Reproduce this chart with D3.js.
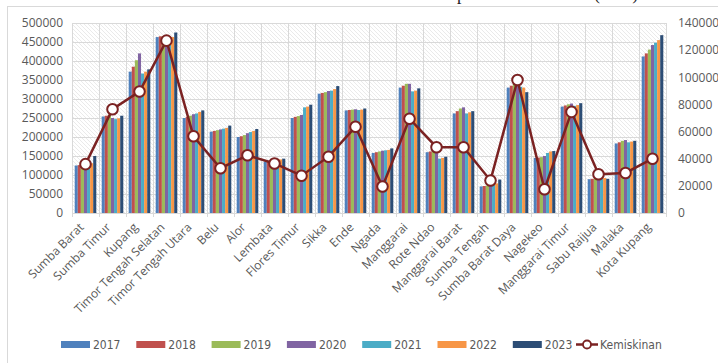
<!DOCTYPE html>
<html>
<head>
<meta charset="utf-8">
<script src="https://cdn.jsdelivr.net/npm/d3@7"></script>
<style>
  body { margin: 0; background: #fff; }
  svg { display: block; }
</style>
</head>
<body>
<div id="chart"></div>
<script>
const regions = ['Sumba Barat', 'Sumba Timur', 'Kupang', 'Timor Tengah Selatan', 'Timor Tengah Utara',
    'Belu', 'Alor', 'Lembata', 'Flores Timur', 'Sikka', 'Ende', 'Ngada', 'Manggarai', 'Rote Ndao',
    'Manggarai Barat', 'Sumba Tengah', 'Sumba Barat Daya', 'Nagekeo', 'Manggarai Timur', 'Sabu Raijua',
    'Malaka', 'Kota Kupang'];
const years = ['2017', '2018', '2019', '2020', '2021', '2022', '2023'];

// penduduk per tahun, urut sesuai regions
const pop2017 = [125000, 254000, 372000, 463000, 250000, 214000, 200000, 135000, 250000, 314000, 270000, 158000, 330000, 160000, 262000, 70000, 330000, 145000, 280000, 89000, 183000, 412000];
const pop2018 = [126000, 256000, 385000, 465000, 253000, 216000, 202000, 136000, 253000, 316000, 271000, 160000, 335000, 162000, 268000, 71000, 335000, 146000, 283000, 90000, 186000, 420000];
const pop2019 = [127000, 258000, 402000, 465000, 256000, 218000, 205000, 137000, 255000, 318000, 272000, 162000, 340000, 165000, 275000, 72000, 340000, 147000, 286000, 91000, 190000, 430000];
const pop2020 = [128000, 250000, 420000, 467000, 260000, 220000, 210000, 138000, 258000, 321000, 273000, 164000, 340000, 160000, 278000, 74000, 338000, 150000, 288000, 92000, 192000, 442000];
const pop2021 = [129000, 247000, 367000, 455000, 262000, 222000, 213000, 140000, 278000, 322000, 271000, 165000, 320000, 143000, 262000, 76000, 332000, 158000, 282000, 91000, 186000, 448000];
const pop2022 = [131000, 249000, 372000, 463000, 266000, 224000, 216000, 141000, 280000, 326000, 272000, 166000, 322000, 145000, 265000, 78000, 330000, 162000, 284000, 92000, 188000, 455000];
const pop2023 = [150000, 256000, 378000, 475000, 270000, 230000, 221000, 143000, 285000, 334000, 275000, 170000, 328000, 148000, 268000, 88000, 318000, 163000, 289000, 90000, 190000, 468000];
const kemiskinan = [36000, 76500, 89500, 127000, 56500, 33000, 42500, 36500, 27500, 41500, 63500, 19500, 69500, 48500, 48500, 24000, 98000, 17500, 74500, 28500, 29500, 40000];

const leftTicks = d3.range(0, 500001, 50000);
const rightTicks = d3.range(0, 140001, 20000);

const popByYear = [pop2017, pop2018, pop2019, pop2020, pop2021, pop2022, pop2023];
const colors = ['#4F81BD', '#C0504D', '#9BBB59', '#8064A2', '#4BACC6', '#F79646', '#2C4D75'];
const lineColor = '#7B2222';

const width = 718;
const height = 363;
const margin = {top: 23, left: 72};
const plotBottom = 213;

const svg = d3.select('#chart')
    .append('svg')
    .attr('width', width)
    .attr('height', height);

// hatch background
const defs = svg.append('defs');
defs.append('pattern')
    .attr('id', 'hatch')
    .attr('patternUnits', 'userSpaceOnUse')
    .attr('width', 4)
    .attr('height', 4)
  .append('path')
    .attr('d', 'M-1,-1 L5,5 M3,-1 L5,1 M-1,3 L1,5')
    .attr('stroke', '#e4e4e4')
    .attr('stroke-width', 0.8);

// title, mostly cut off at the top like in the source
svg.append('text')
    .attr('x', 385)
    .attr('y', -0.5)
    .attr('text-anchor', 'middle')
    .attr('font-family', 'Liberation Serif, serif')
    .attr('font-size', 17.5)
    .attr('fill', '#222')
    .text('Jumlah Penduduk dan Penduduk Miskin Kabupaten/Kota di NTT (Jiwa)');

// chart frame
svg.append('rect')
    .attr('x', 7.5)
    .attr('y', 6.5)
    .attr('width', 720)
    .attr('height', 370)
    .attr('fill', 'none')
    .attr('stroke', '#d9d9d9');

const x = d3.scaleBand()
    .domain(regions)
    .range([margin.left, margin.left + 27 * regions.length])
    .paddingInner(0.2)
    .paddingOuter(0.1);

const xInner = d3.scaleBand()
    .domain(years)
    .range([0, x.bandwidth()]);

const y = d3.scaleLinear()
    .domain([0, 500000])
    .range([plotBottom, margin.top]);

const y2 = d3.scaleLinear()
    .domain([0, 140000])
    .range([plotBottom, margin.top]);

const plotLeft = x.range()[0];
const plotRight = x.range()[1];

svg.append('rect')
    .attr('x', plotLeft)
    .attr('y', margin.top)
    .attr('width', plotRight - plotLeft)
    .attr('height', plotBottom - margin.top)
    .attr('fill', 'url(#hatch)');

// gridlines
svg.append('g')
    .attr('stroke', '#d9d9d9')
    .selectAll('line')
    .data(leftTicks.slice(1))
    .join('line')
        .attr('x1', plotLeft)
        .attr('x2', plotRight)
        .attr('y1', d => Math.round(y(d)) + 0.5)
        .attr('y2', d => Math.round(y(d)) + 0.5);

const step = x.step();
svg.append('g')
    .attr('stroke', '#d9d9d9')
    .selectAll('line')
    .data(d3.range(regions.length + 1))
    .join('line')
        .attr('x1', i => Math.round(plotLeft + i * step) + 0.5)
        .attr('x2', i => Math.round(plotLeft + i * step) + 0.5)
        .attr('y1', margin.top)
        .attr('y2', plotBottom + 4);

// bars
const groups = svg.append('g')
    .selectAll('g')
    .data(regions)
    .join('g')
        .attr('transform', d => `translate(${x(d)},0)`);

groups.selectAll('rect')
    .data((d, i) => years.map((yr, j) => ({year: yr, value: popByYear[j][i], color: colors[j]})))
    .join('rect')
        .attr('x', d => xInner(d.year))
        .attr('width', xInner.bandwidth())
        .attr('y', d => y(d.value))
        .attr('height', d => y(0) - y(d.value))
        .attr('fill', d => d.color);

// baseline
svg.append('line')
    .attr('x1', plotLeft)
    .attr('x2', plotRight)
    .attr('y1', plotBottom + 0.5)
    .attr('y2', plotBottom + 0.5)
    .attr('stroke', '#d9d9d9');

// kemiskinan line
const line = d3.line()
    .x((d, i) => x(regions[i]) + x.bandwidth() / 2)
    .y(d => y2(d));

svg.append('path')
    .datum(kemiskinan)
    .attr('d', line)
    .attr('fill', 'none')
    .attr('stroke', lineColor)
    .attr('stroke-width', 2.5);

svg.append('g')
    .selectAll('circle')
    .data(kemiskinan)
    .join('circle')
        .attr('cx', (d, i) => x(regions[i]) + x.bandwidth() / 2)
        .attr('cy', d => y2(d))
        .attr('r', 5.3)
        .attr('fill', '#fff')
        .attr('stroke', lineColor)
        .attr('stroke-width', 2);

// axes
function yAxis(g) {
    g.attr('transform', `translate(${plotLeft - 6},0)`)
        .call(d3.axisLeft(y).tickValues(leftTicks).tickSize(0).tickFormat(d3.format('d')))
        .call(g => g.select('.domain').remove())
        .attr('font-family', 'Open Sans, sans-serif')
        .attr('font-size', 12)
        .selectAll('text').attr('fill', '#595959');
}
function y2Axis(g) {
    g.attr('transform', `translate(${plotRight + 9},0)`)
        .call(d3.axisRight(y2).tickValues(rightTicks).tickSize(0).tickFormat(d3.format('d')))
        .call(g => g.select('.domain').remove())
        .attr('font-family', 'Open Sans, sans-serif')
        .attr('font-size', 12)
        .selectAll('text').attr('fill', '#595959');
}
svg.append('g').call(yAxis);
svg.append('g').call(y2Axis);

svg.append('g')
    .attr('font-family', 'Open Sans, sans-serif')
    .attr('font-size', 12)
    .attr('fill', '#595959')
    .selectAll('text')
    .data(regions)
    .join('text')
        .attr('text-anchor', 'end')
        .attr('transform', d => `translate(${x(d) + x.bandwidth() / 2 - 1},${plotBottom + 15}) rotate(-45)`)
        .text(d => d);

// legend
const legend = svg.append('g')
    .attr('font-family', 'DejaVu Sans Condensed, Liberation Sans Narrow, sans-serif')
    .attr('font-size', 12)
    .attr('fill', '#595959');

years.forEach((yr, j) => {
    const lx = 61 + j * 75.3;
    legend.append('rect')
        .attr('x', lx)
        .attr('y', 341)
        .attr('width', 29)
        .attr('height', 7)
        .attr('fill', colors[j]);
    legend.append('text')
        .attr('x', lx + 32)
        .attr('y', 348.5)
        .text(yr);
});
legend.append('line')
    .attr('x1', 576).attr('x2', 598)
    .attr('y1', 344.5).attr('y2', 344.5)
    .attr('stroke', lineColor).attr('stroke-width', 2.5);
legend.append('circle')
    .attr('cx', 587).attr('cy', 344.5).attr('r', 4)
    .attr('fill', '#fff').attr('stroke', lineColor).attr('stroke-width', 1.8);
legend.append('text')
    .attr('x', 600)
    .attr('y', 348.5)
    .text('Kemiskinan');
</script>
</body>
</html>
